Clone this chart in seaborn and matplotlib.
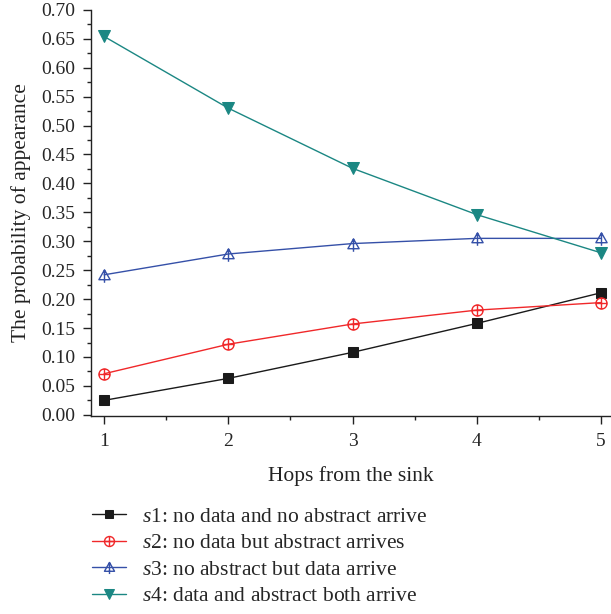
import numpy as np
import pandas as pd
import matplotlib
matplotlib.use('Agg')
import matplotlib.pyplot as plt
import seaborn as sns
from matplotlib.path import Path
from matplotlib.ticker import MultipleLocator

# dữ liệu
hops = [1, 2, 3, 4, 5]
s1 = [0.025, 0.063, 0.108, 0.158, 0.211]
s2 = [0.071, 0.122, 0.157, 0.181, 0.194]
s3 = [0.242, 0.278, 0.296, 0.305, 0.305]
s4 = [0.654, 0.530, 0.426, 0.346, 0.280]

labels = [
    r'$s$1: no data and no abstract arrive',
    r'$s$2: no data but abstract arrives',
    r'$s$3: no abstract but data arrive',
    r'$s$4: data and abstract both arrive',
]
colors = ['#1a1a1a', '#f0282a', '#3550a8', '#1b8783']

sns.set_theme(style='ticks')
plt.rcParams['font.family'] = ['Liberation Serif', 'DejaVu Serif']
plt.rcParams['mathtext.fontset'] = 'custom'
plt.rcParams['mathtext.rm'] = 'Liberation Serif'
plt.rcParams['mathtext.it'] = 'Liberation Serif:italic'

# marker: vòng tròn có dấu cộng
circ = Path.unit_circle()
plus = Path([(-1, 0), (1, 0), (0, -1), (0, 1)],
            [Path.MOVETO, Path.LINETO, Path.MOVETO, Path.LINETO])
oplus = Path.make_compound_path(circ, plus)
# marker: tam giác có đường dọc
tri = Path([(-1, -0.75), (1, -0.75), (0, 1), (-1, -0.75)],
           [Path.MOVETO, Path.LINETO, Path.LINETO, Path.CLOSEPOLY])
vline = Path([(0, 1), (0, -1.3)], [Path.MOVETO, Path.LINETO])
tri_line = Path.make_compound_path(tri, vline)

fig = plt.figure(figsize=(6.11, 6.14), dpi=100)
ax = fig.add_axes([0.149, 0.3225, 0.851, 0.6615])

styles = [
    dict(marker='s', markersize=6.5, markerfacecolor=colors[0], markeredgecolor=colors[0]),
    dict(marker=oplus, markersize=8, markerfacecolor='none', markeredgecolor=colors[1], markeredgewidth=1.0),
    dict(marker=tri_line, markersize=10.5, markerfacecolor='none', markeredgecolor=colors[2], markeredgewidth=1.0),
    dict(marker='v', markersize=8, markerfacecolor=colors[3], markeredgecolor=colors[3]),
]
for ys, lab, c, st in zip([s1, s2, s3, s4], labels, colors, styles):
    df = pd.DataFrame({'Hops': hops, 'p': ys})
    sns.lineplot(data=df, x='Hops', y='p', color=c, linewidth=1.0, label=lab, ax=ax, **st)

ax.set_xlim(0.895, 5.08)
ax.set_ylim(-0.002, 0.70)
ax.xaxis.set_major_locator(MultipleLocator(1))
ax.xaxis.set_minor_locator(MultipleLocator(0.5))
ax.yaxis.set_major_locator(MultipleLocator(0.05))
ax.yaxis.set_minor_locator(MultipleLocator(0.025))
ax.yaxis.set_major_formatter(matplotlib.ticker.FormatStrFormatter('%.2f'))

ax.spines['top'].set_visible(False)
ax.spines['right'].set_visible(False)
for sp in ['left', 'bottom']:
    ax.spines[sp].set_linewidth(1.0)
    ax.spines[sp].set_color('#222222')
ax.tick_params(which='major', direction='out', length=5.5, width=1.0, labelsize=14, color='#222222', pad=6)
ax.tick_params(which='minor', direction='out', length=3, width=1.0, color='#222222')
ax.tick_params(axis='x', pad=7)

ax.set_xlabel('Hops from the sink', fontsize=15.5, labelpad=11, color='#222222')
ax.set_ylabel('The probability of appearance', fontsize=15.5, labelpad=7, color='#222222')

handles, labs = ax.get_legend_handles_labels()
ax.get_legend().remove()
fig.legend(handles, labs, loc='upper left', bbox_to_anchor=(0.150, 0.175),
           frameon=False, fontsize=15.5, handlelength=1.6, handletextpad=0.75,
           labelspacing=0.3, borderpad=0.0, borderaxespad=0.0, markerscale=0.9)

fig.savefig('out.png', dpi=100)
